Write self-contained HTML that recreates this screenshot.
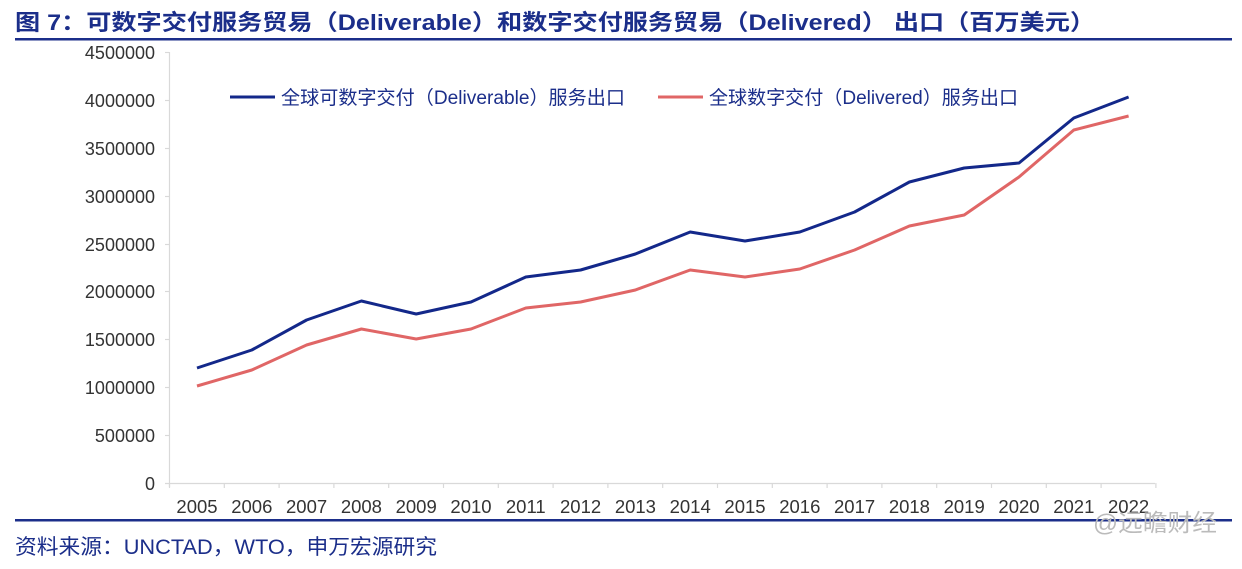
<!DOCTYPE html>
<html><head><meta charset="utf-8"><style>
body{margin:0;background:#fff;width:1242px;height:569px;overflow:hidden;font-family:"Liberation Sans","Noto Sans CJK SC",sans-serif}
</style></head><body>
<svg width="1242" height="569" xmlns="http://www.w3.org/2000/svg" style="position:absolute;left:0;top:0">
<text x="15" y="30" font-size="22" font-weight="bold" fill="#1b2e8a" font-family="Liberation Sans,Noto Sans CJK SC,sans-serif" textLength="1080" lengthAdjust="spacingAndGlyphs">图 7：可数字交付服务贸易（Deliverable）和数字交付服务贸易（Delivered） 出口（百万美元）</text>
<rect x="15" y="38" width="1217" height="2.5" fill="#1b2e8a"/>
<g font-size="18" fill="#333" text-anchor="end" font-family="Liberation Sans,sans-serif">
<text x="155" y="59">4500000</text><text x="155" y="107">4000000</text><text x="155" y="155">3500000</text>
<text x="155" y="203">3000000</text><text x="155" y="251">2500000</text><text x="155" y="298">2000000</text>
<text x="155" y="346">1500000</text><text x="155" y="394">1000000</text><text x="155" y="442">500000</text>
<text x="155" y="490">0</text>
</g>
<g stroke="#d9d9d9" stroke-width="1.2">
<line x1="169.5" y1="52" x2="169.5" y2="487"/>
<line x1="165" y1="483.5" x2="1155" y2="483.5"/>
<line x1="165" y1="52.5" x2="169" y2="52.5"/><line x1="165" y1="100.5" x2="169" y2="100.5"/><line x1="165" y1="148.5" x2="169" y2="148.5"/>
<line x1="165" y1="196.5" x2="169" y2="196.5"/><line x1="165" y1="244.5" x2="169" y2="244.5"/><line x1="165" y1="291.5" x2="169" y2="291.5"/>
<line x1="165" y1="339.5" x2="169" y2="339.5"/><line x1="165" y1="387.5" x2="169" y2="387.5"/><line x1="165" y1="435.5" x2="169" y2="435.5"/>
</g>
<g id="xt" stroke="#d9d9d9" stroke-width="1.2"></g>
<g id="xl" font-size="18.5" fill="#333" text-anchor="middle" font-family="Liberation Sans,sans-serif"></g>
<polyline id="blue" fill="none" stroke="#13288a" stroke-width="3" stroke-linejoin="round"/>
<polyline id="red" fill="none" stroke="#e06666" stroke-width="3" stroke-linejoin="round"/>
<line x1="230" y1="97" x2="275" y2="97" stroke="#13288a" stroke-width="3"/>
<text x="281" y="104" font-size="19" fill="#1b2e8a" textLength="344" lengthAdjust="spacingAndGlyphs">全球可数字交付（Deliverable）服务出口</text>
<line x1="658" y1="97" x2="703" y2="97" stroke="#e06666" stroke-width="3"/>
<text x="709" y="104" font-size="19" fill="#1b2e8a" textLength="309" lengthAdjust="spacingAndGlyphs">全球数字交付（Delivered）服务出口</text>
<rect x="15" y="519" width="1217" height="2.5" fill="#1b2e8a"/>
<text x="15" y="554" font-size="21" fill="#1b2e8a" textLength="422" lengthAdjust="spacingAndGlyphs">资料来源：UNCTAD，WTO，申万宏源研究</text>
<text x="1093" y="531" font-size="24" fill="#bbb" textLength="124" lengthAdjust="spacingAndGlyphs">@远瞻财经</text>
</svg>
<script>
var b=[368,350,320,301,314,302,277,270,254,232,241,232,212,182,168,163,118,97];
var r=[386,370,345,329,339,329,308,302,290,270,277,269,250,226,215,177,130,116];
var s=54.8,x0=197,pb=[],pr=[],t='',l='';
for(var i=0;i<18;i++){var x=x0+s*i;pb.push(x+','+b[i]);pr.push(x+','+r[i]);l+='<text x="'+x+'" y="513">'+(2005+i)+'</text>';}
for(var i=0;i<=18;i++){var x=169.5+s*i;t+='<line x1="'+x+'" y1="483" x2="'+x+'" y2="488"/>';}
document.getElementById('blue').setAttribute('points',pb.join(' '));
document.getElementById('red').setAttribute('points',pr.join(' '));
document.getElementById('xt').innerHTML=t;document.getElementById('xl').innerHTML=l;
</script>
</body></html>
